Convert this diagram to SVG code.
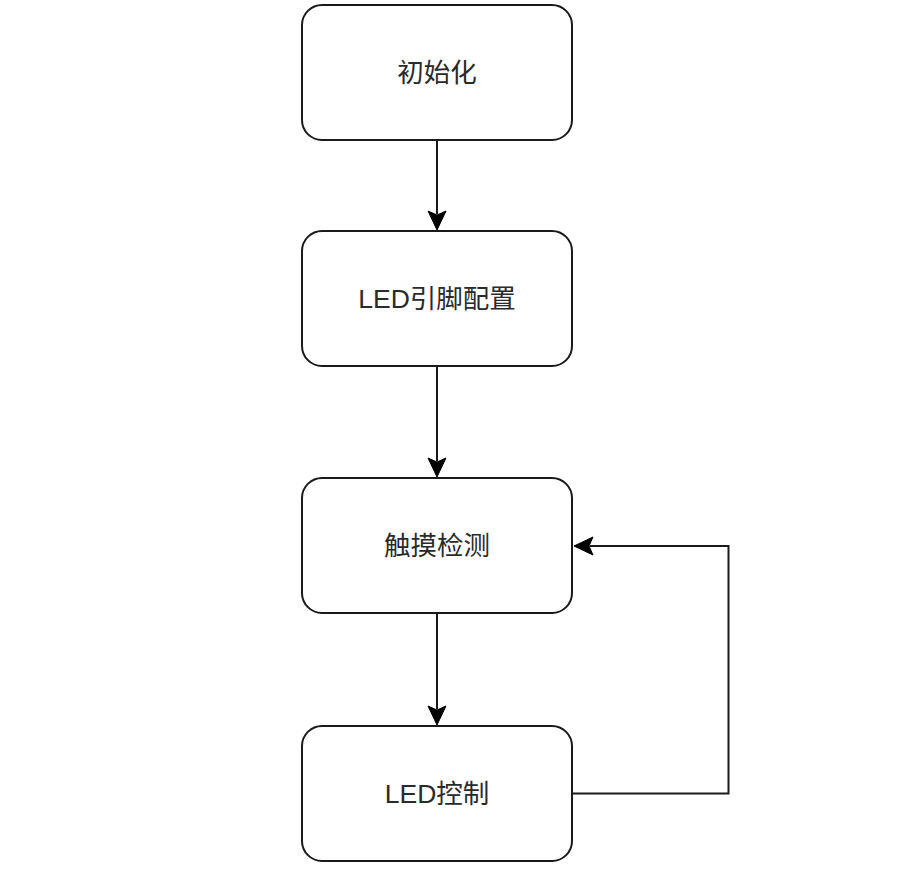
<svg xmlns="http://www.w3.org/2000/svg" width="900" height="871" viewBox="0 0 900 871">
<style>
.box{fill:#fff;stroke:#1a1a1a;stroke-width:2}
.lbl{font-family:"Liberation Sans","Noto Sans CJK SC",sans-serif;font-size:26.5px;fill:#2a2a2a;text-anchor:middle;dominant-baseline:central}
.edge{fill:none;stroke:#1a1a1a;stroke-width:2}
.head{fill:#000;stroke:#000;stroke-width:1}
</style>
<rect width="900" height="871" fill="#fff"/>
<g id="connectors">
<path class="edge" d="M437 141V214"/>
<path class="head" d="M437 230L428 211L437 215L446 211Z"/>
<path class="edge" d="M437 367V461"/>
<path class="head" d="M437 477L428 458L437 462L446 458Z"/>
<path class="edge" d="M437 614V709"/>
<path class="head" d="M437 725L428 706L437 710L446 706Z"/>
<path class="edge" d="M572 793.5H728.5V546H590"/>
<path class="head" d="M574 546L593 537L589 546L593 555Z"/>
</g>
<g id="n1"><rect class="box" x="302" y="5" width="270" height="135" rx="20"/><text class="lbl" x="437" y="72.5">初始化</text></g>
<g id="n2"><rect class="box" x="302" y="231" width="270" height="135" rx="20"/><text class="lbl" x="437" y="298.5">LED引脚配置</text></g>
<g id="n3"><rect class="box" x="302" y="478" width="270" height="135" rx="20"/><text class="lbl" x="437" y="545.5">触摸检测</text></g>
<g id="n4"><rect class="box" x="302" y="726" width="270" height="135" rx="20"/><text class="lbl" x="437" y="793.5">LED控制</text></g>
</svg>
